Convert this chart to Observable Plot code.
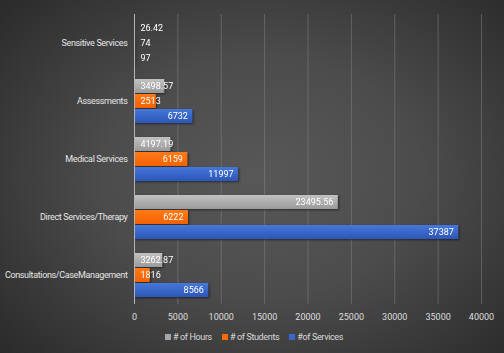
<!DOCTYPE html>
<html><head><meta charset="utf-8">
<script src="https://cdn.jsdelivr.net/npm/d3@7"></script>
<script src="https://cdn.jsdelivr.net/npm/@observablehq/plot@0.6"></script>
<style>
html,body{margin:0;padding:0;background:#333;}
#chart{width:504px;height:353px;position:relative;overflow:hidden;
  background:radial-gradient(ellipse 70% 75% at 52% 50%, #585858 0%, #4c4c4c 45%, #2a2a2a 100%);
  font-family:Roboto,sans-serif;}
#chart svg{position:absolute;left:0;top:0;}
.legend{position:absolute;left:0;top:332px;width:504px;display:flex;justify-content:center;gap:10px;
  font-size:9px;letter-spacing:-0.35px;color:#d9d9d9;padding-left:4px;box-sizing:border-box;}
.legend span.item{display:flex;align-items:center;gap:2px;}
.legend i{display:inline-block;width:6px;height:6px;}
</style></head><body><div id="chart"></div><script>
const categories = ["Sensitive Services","Assessments","Medical Services","Direct Services/Therapy","Consultations/CaseManagement"];
const seriesNames = ["# of Hours","# of Students","#of Services"];
const hours = [26.42, 3498.57, 4197.19, 23495.56, 3262.87];
const students = [74, 2513, 6159, 6222, 1816];
const services = [97, 6732, 11997, 37387, 8566];
const xTicks = [0,5000,10000,15000,20000,25000,30000,35000,40000];
const seriesColors = ["#a6a6a6","#ff6a00","#3a66cc"];

const FONT = 'Roboto,sans-serif';
const W=504, H=328, ML=134, MR=23, MT=12, MB=22;
const rows=[];
categories.forEach((c,i)=>{
  [hours,students,services].forEach((arr,j)=>rows.push({cat:c, series:seriesNames[j], value:arr[i]}));
});
const k=(W-ML-MR)/xTicks[xTicks.length-1];
const ctx=document.createElement("canvas").getContext("2d");
ctx.font=`9px ${FONT}`;
rows.forEach(d=>{d.label=String(d.value); d.fits = d.value*k-11 >= ctx.measureText(d.label).width;});

const chart = Plot.plot({
  width:W, height:H, marginLeft:ML, marginRight:MR, marginTop:MT, marginBottom:MB,
  style:{background:"transparent", color:"#dedede", fontFamily:FONT, fontSize:"9px", overflow:"visible"},
  x:{domain:[xTicks[0],xTicks[xTicks.length-1]], ticks:xTicks, tickFormat:d=>String(d), label:null, tickSize:0, tickPadding:9},
  y:{axis:null, domain:seriesNames, paddingInner:0.1, paddingOuter:0.45},
  fy:{domain:categories, padding:0, label:null, axis:"left", tickSize:0, tickPadding:7},
  color:{domain:seriesNames, range:["url(#gHours)","url(#gStudents)","url(#gServices)"]},
  marks:[
    Plot.gridX(xTicks.filter(t=>t>0),{stroke:"#8c8c8c", strokeOpacity:0.45}),
    Plot.barX(rows,{x:"value", y:"series", fy:"cat", fill:"series"}),
    Plot.ruleX([0],{stroke:"#b4b4b4", strokeWidth:1}),
    Plot.text(rows.filter(d=>d.fits),{x:"value", y:"series", fy:"cat", text:"label", textAnchor:"end", dx:-5, fill:"#ffffff"}),
    Plot.text(rows.filter(d=>!d.fits),{x:d=>0, y:"series", fy:"cat", text:"label", textAnchor:"start", dx:6, fill:"#ffffff"})
  ]
});
const svg=d3.select(chart);
const defs=svg.insert("defs",":first-child");
const grads=[["gHours","#c2c2c2","#9a9a9a"],["gStudents","#ff7a1a","#f26200"],["gServices","#4677db","#2d56b8"]];
grads.forEach(([id,a,b])=>{
  const g=defs.append("linearGradient").attr("id",id).attr("x1",0).attr("y1",0).attr("x2",0).attr("y2",1);
  g.append("stop").attr("offset","0%").attr("stop-color",a);
  g.append("stop").attr("offset","100%").attr("stop-color",b);
});
svg.selectAll('g[aria-label="bar"]').style("filter","drop-shadow(1.5px 1.5px 1px rgba(0,0,0,0.5))");
svg.selectAll('g[aria-label="fy-axis tick label"]').style("fill","#e6e6e6").style("letter-spacing","-0.35px");
svg.selectAll('g[aria-label="fy-axis tick label"] text').style("fill","#e6e6e6").style("letter-spacing","-0.35px");
const root=document.getElementById("chart");
root.appendChild(chart);
const leg=d3.select(root).append("div").attr("class","legend");
seriesNames.forEach((s,i)=>{
  const it=leg.append("span").attr("class","item");
  it.append("i").style("background",seriesColors[i]);
  it.append("span").text(s);
});
</script></body></html>
